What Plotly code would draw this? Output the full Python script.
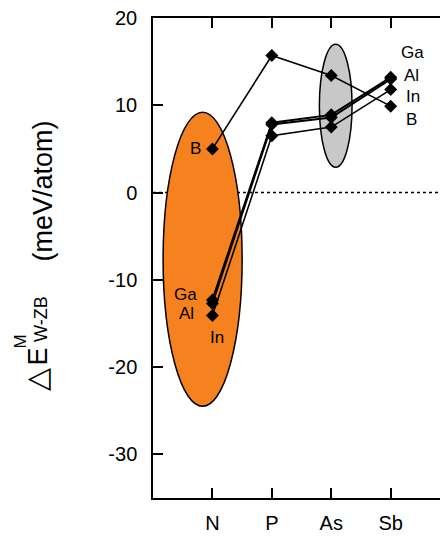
import plotly.graph_objects as go

anions = ["N", "P", "As", "Sb"]
x_pos = [1, 2, 3, 4]
ga = [-12.3, 8.0, 8.9, 13.2]
al = [-12.7, 7.8, 8.6, 13.0]
in_ = [-14.1, 6.5, 7.5, 11.8]
b = [5.0, 15.7, 13.4, 9.9]

y_ticks = [-30, -20, -10, 0, 10, 20]
y_ticktext = [str(v) for v in y_ticks]

# highlight regions (data coords)
orange_region = dict(x0=0.17, x1=1.50, y0=-24.5, y1=9.2)
grey_region = dict(x0=2.80, x1=3.35, y0=2.9, y1=17.0)

# plot area in pixels (used for placing the rotated title pieces)
L, T, W, H = 153, 18, 287, 480


def px(xp):
    return (xp - L) / W


def py(yp):
    return (T + H - yp) / H


fig = go.Figure()

mk = dict(symbol="diamond", size=10, color="black")
fig.add_trace(go.Scatter(x=x_pos, y=in_, mode="lines+markers",
                         line=dict(color="black", width=1.6), marker=mk))
fig.add_trace(go.Scatter(x=x_pos, y=al, mode="lines+markers",
                         line=dict(color="black", width=2), marker=mk))
fig.add_trace(go.Scatter(x=x_pos, y=ga, mode="lines+markers",
                         line=dict(color="black", width=2), marker=mk))
fig.add_trace(go.Scatter(x=x_pos, y=b, mode="lines+markers",
                         line=dict(color="black", width=1.6), marker=mk))

fig.add_shape(type="circle", xref="x", yref="y", layer="below",
              fillcolor="#F5821F", line=dict(color="black", width=1.5),
              **orange_region)
fig.add_shape(type="circle", xref="x", yref="y", layer="below",
              fillcolor="#C8C8C8", line=dict(color="black", width=1.5),
              **grey_region)
fig.add_shape(type="line", xref="paper", yref="y", x0=0, x1=1, y0=0, y1=0,
              layer="below", line=dict(color="black", width=1.5, dash="dot"))

lab_font = dict(family="Liberation Sans, Arial", size=17, color="black")
labels = [
    (0.72, b[0], "B"),
    (0.55, -11.7, "Ga"),
    (0.57, -13.9, "Al"),
    (1.07, -16.6, "In"),
    (4.37, 16.0, "Ga"),
    (4.35, 13.4, "Al"),
    (4.37, 11.0, "In"),
    (4.35, 8.4, "B"),
]
for x, y, t in labels:
    fig.add_annotation(x=x, y=y, text=t, showarrow=False, font=lab_font,
                       xanchor="center", yanchor="middle")

# rotated y-axis title built from pieces so that M and W-ZB stack
title_pieces = [
    ("(meV/atom)", 27, 42.5, 191),
    ("W-ZB", 18, 41, 319),
    ("M", 17, 19.5, 342),
    ("E", 27, 37.5, 357),
    ("△", 30, 36, 380),
]
for t, s, xp, yp in title_pieces:
    fig.add_annotation(xref="paper", yref="paper", x=px(xp), y=py(yp),
                       text=t, textangle=-90, showarrow=False,
                       font=dict(family="Liberation Sans, Arial", size=s,
                                 color="black"),
                       xanchor="center", yanchor="middle")

fig.update_layout(
    width=440, height=536,
    margin=dict(l=L, r=0, t=T, b=536 - T - H),
    paper_bgcolor="white", plot_bgcolor="white",
    showlegend=False,
    font=dict(family="Liberation Sans, Arial", color="black"),
)
fig.update_xaxes(range=[0, 4.83], tickvals=x_pos, ticktext=anions,
                 ticks="inside", ticklen=10, tickwidth=1.5, tickcolor="black",
                 showline=True, linecolor="black", linewidth=1.5,
                 mirror="allticks", showgrid=False, zeroline=False,
                 tickfont=dict(size=20), ticklabelstandoff=6)
fig.update_yaxes(range=[-35, 20], tickvals=y_ticks, ticktext=y_ticktext,
                 ticks="inside", ticklen=10, tickwidth=1.5, tickcolor="black",
                 showline=True, linecolor="black", linewidth=1.5,
                 mirror=False, showgrid=False, zeroline=False,
                 tickfont=dict(size=20), ticklabelstandoff=10)

fig.write_html("out.html")
